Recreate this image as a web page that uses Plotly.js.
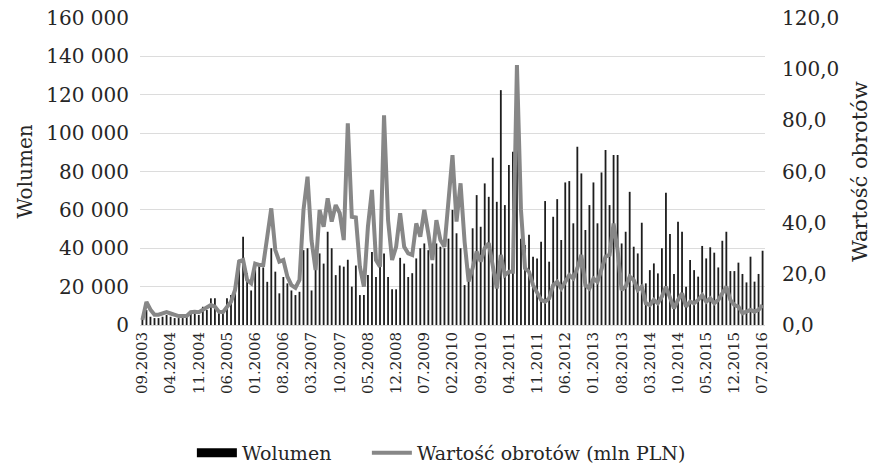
<!DOCTYPE html>
<html>
<head>
<meta charset="utf-8">
<script src="https://cdn.plot.ly/plotly-3.0.1.min.js"></script>
<style>
html,body{margin:0;padding:0;background:#fff;}
#chart{width:875px;height:469px;}
</style>
</head>
<body>
<div id="chart"></div>
<script>
// Monthly categories 09.2003 .. 07.2016
const months = [];
for (let y = 2003, m = 9; !(y === 2016 && m === 8); ) {
  months.push((m < 10 ? '0' + m : '' + m) + '.' + y);
  m++; if (m > 12) { m = 1; y++; }
}

const tickLabels = ['09.2003','04.2004','11.2004','06.2005','01.2006','08.2006','03.2007','10.2007',
  '05.2008','12.2008','07.2009','02.2010','09.2010','04.2011','11.2011','06.2012','01.2013',
  '08.2013','03.2014','10.2014','05.2015','12.2015','07.2016'];

// Wolumen (monthly volume)
const volume = [
  4300, 7800, 4300, 3600, 3600, 4300, 5200, 4300, 3600, 3600,
  3600, 4300, 6100, 6100, 5200, 9500, 7800, 13900, 13900, 6100,
  7800, 13900, 15600, 21700, 34000, 46000, 27000, 18000, 32000, 31000,
  30000, 22500, 40000, 27800, 16500, 25000, 21700, 18000, 15600, 17300,
  39000, 40000, 18000, 33900, 37300, 32000, 48600, 40000, 26000, 31000,
  30400, 34000, 20000, 31000, 15600, 15600, 26000, 38000, 25000, 31000,
  37300, 25000, 18600, 18600, 35000, 32000, 25000, 27000, 34700, 40000,
  42500, 39000, 32000, 42500, 40800, 40000, 45000, 60000, 47800, 40000,
  20800, 29500, 50400, 67700, 51200, 73800, 66800, 87200, 64200, 122400,
  62500, 83400, 90300, 134000, 45000, 41700, 47000, 35600, 34700, 43400,
  64600, 33000, 56400, 65600, 44300, 74300, 75000, 53000, 92900, 79000,
  49500, 62500, 74300, 53000, 79500, 91200, 62500, 88600, 88600, 42500,
  48600, 69400, 40800, 37300, 53300, 21700, 28600, 32100, 26900, 40000,
  68900, 47400, 26600, 53800, 48600, 20000, 33900, 28600, 25200, 41200,
  34700, 40500, 37700, 30000, 43900, 48600, 28100, 28100, 32500, 26600,
  22200, 35600, 22600, 26600, 38700
];

// Wartość obrotów (mln PLN)
const turnover = [
  2, 9, 6, 4, 4, 4.5, 5, 4.5, 4, 3.5,
  3.5, 3.5, 5, 5.2, 5, 5.9, 6.5, 7.8, 7.2, 5.2,
  5, 7.4, 9.1, 13.7, 24.8, 25.4, 17.6, 16.3, 24, 23.5,
  23.5, 34.5, 45.6, 29.3, 24.8, 25.4, 18.9, 15.6, 14.5, 17.6,
  45, 58, 33, 21.5, 45, 38.4, 49.5, 40.4, 46.9, 43.7,
  33.2, 78.8, 42.3, 42, 22.8, 15, 38.4, 52.8, 25.4, 22.8,
  82, 41, 25.4, 30.6, 43.7, 30.6, 28, 27.4, 39.7, 34.5,
  45, 35.8, 25.4, 41, 33.2, 30.6, 50, 66.4, 40.4, 55.4,
  32.6, 17, 22.2, 28.7, 24.8, 30, 32, 22.2, 14.3, 27.4,
  19.5, 20.8, 20.8, 101.6, 45, 22.2, 20.8, 15.6, 13, 9.8,
  9.1, 10.4, 15.6, 16.9, 14.3, 16.9, 19.5, 18.2, 22.2, 27.4,
  15.6, 14.3, 18.2, 16.9, 22, 26.7, 27.4, 39.7, 29.3, 13.7,
  15, 18.9, 17.6, 13.7, 15, 8.5, 7.8, 9.8, 8.5, 11.1,
  15, 11.1, 6.5, 9.8, 12.4, 7.2, 9.1, 8.5, 9.8, 11.7,
  9.1, 10.4, 8.5, 9.8, 12.4, 15, 9.8, 7.8, 7.2, 4.6,
  5.2, 5.9, 5.2, 5.9, 7.8
];

const FONT = 'DejaVu Serif, Liberation Serif, serif';
const TXT = '#262626';

const traces = [
  {
    type: 'bar', name: 'Wolumen', x: months, y: volume,
    marker: {color: '#1e1e1e', line: {width: 0}},
    yaxis: 'y', showlegend: false
  },
  {
    // legend key only (wide black block like the original legend)
    type: 'scatter', mode: 'lines', name: 'Wolumen', x: [null], y: [null],
    yaxis: 'y', line: {color: '#000', width: 9}, hoverinfo: 'skip',
    legend: 'legend'
  },
  {
    type: 'scatter', mode: 'lines', name: 'Wartość obrotów (mln PLN)',
    x: months, y: turnover, yaxis: 'y2',
    line: {color: '#878787', width: 4}, legend: 'legend2'
  }
];

const legendFont = {family: FONT, size: 19, color: TXT};

const layout = {
  width: 875, height: 469,
  margin: {l: 140, r: 110, t: 18, b: 144, autoexpand: false},
  paper_bgcolor: '#fff', plot_bgcolor: '#fff',
  separators: ', ',
  font: {family: FONT, color: TXT, size: 19},
  bargap: 0.55,
  showlegend: true,
  legend: {
    orientation: 'h', x: 0.083, xanchor: 'left', y: -0.417, yanchor: 'middle',
    font: legendFont, itemwidth: 40
  },
  legend2: {
    orientation: 'h', x: 0.363, xanchor: 'left', y: -0.417, yanchor: 'middle',
    font: legendFont, itemwidth: 40
  },
  xaxis: {
    type: 'category',
    tickmode: 'array', tickvals: tickLabels, ticktext: tickLabels,
    tickangle: -90, tickfont: {family: FONT, size: 15, color: TXT},
    showgrid: false, showline: true, linecolor: '#d9d9d9', linewidth: 1,
    ticks: '', zeroline: false, range: [-0.6, months.length - 0.4]
  },
  yaxis: {
    range: [0, 160000], dtick: 20000, tickformat: ',d',
    showgrid: true, gridcolor: '#dcdcdc', gridwidth: 1, zeroline: false,
    tickfont: {family: FONT, size: 20, color: TXT},
    ticklabelstandoff: 10,
    title: {text: 'Wolumen', font: {family: FONT, size: 20, color: TXT}, standoff: 8}
  },
  yaxis2: {
    overlaying: 'y', side: 'right',
    range: [0, 120], dtick: 20, tickformat: '.1f',
    showgrid: false, zeroline: false,
    tickfont: {family: FONT, size: 20, color: TXT},
    ticklabelstandoff: 16,
    title: {text: 'Wartość obrotów', font: {family: FONT, size: 21, color: TXT}, standoff: 14}
  }
};

Plotly.newPlot('chart', traces, layout, {displayModeBar: false, staticPlot: true});
</script>
</body>
</html>
